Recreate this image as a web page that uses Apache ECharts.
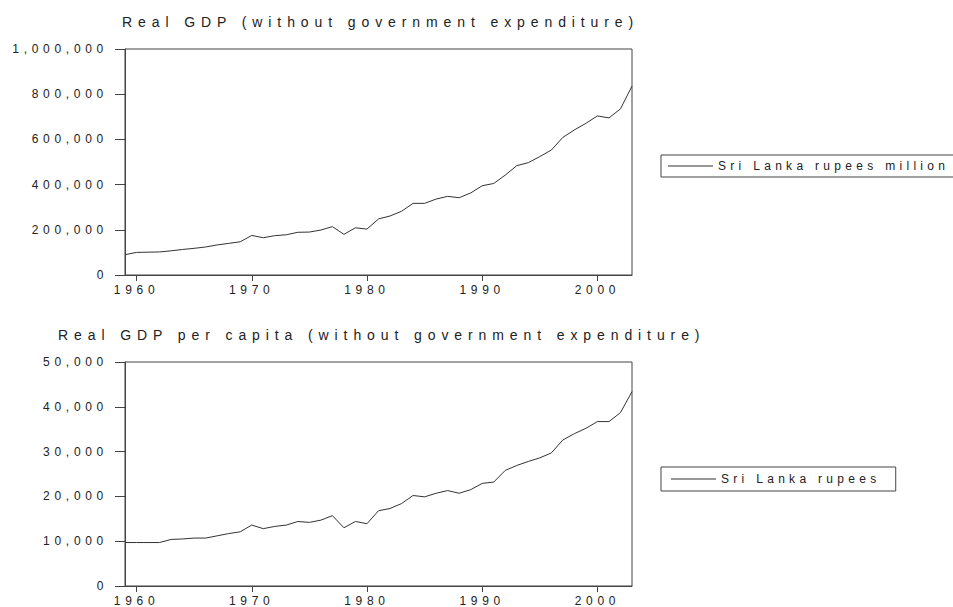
<!DOCTYPE html>
<html>
<head>
<meta charset="utf-8">
<script src="https://cdn.jsdelivr.net/npm/echarts@6/dist/echarts.min.js"></script>
<style>
html, body { margin: 0; padding: 0; background: #fff; }
#chart { width: 953px; height: 607px; }
/* the old plot spaces its letters out wide */
#chart text { letter-spacing: 4.7px; }
#chart text[style*="14px"] { letter-spacing: 5.9px; }
#chart text[style*="Arial"] { letter-spacing: 4.3px; }
</style>
</head>
<body>
<div id="chart"></div>
<script>
// 1959 - 2003
const years = [
    1959, 1960, 1961, 1962, 1963, 1964, 1965, 1966, 1967, 1968,
    1969, 1970, 1971, 1972, 1973, 1974, 1975, 1976, 1977, 1978,
    1979, 1980, 1981, 1982, 1983, 1984, 1985, 1986, 1987, 1988,
    1989, 1990, 1991, 1992, 1993, 1994, 1995, 1996, 1997, 1998,
    1999, 2000, 2001, 2002, 2003
]
// Sri Lanka rupees million
const gdp = [
    90000, 100000, 101000, 102000, 107000, 113000, 118000, 124000, 133000, 140000,
    147000, 175000, 165000, 174000, 178000, 189000, 190000, 199000, 214000, 180000,
    209000, 203000, 248000, 261000, 282000, 317000, 317000, 336000, 348000, 342000,
    363000, 395000, 405000, 442000, 484000, 497000, 524000, 553000, 609000, 642000,
    671000, 704000, 695000, 735000, 836000
]
// Sri Lanka rupees
const gdpPerCapita = [
    9700, 9700, 9700, 9700, 10400, 10500, 10700, 10700, 11200, 11700,
    12100, 13600, 12800, 13300, 13600, 14400, 14200, 14700, 15700, 13000,
    14400, 13900, 16800, 17300, 18400, 20200, 19900, 20700, 21300, 20700,
    21500, 22900, 23200, 25800, 26900, 27800, 28600, 29700, 32600, 34000,
    35200, 36700, 36700, 38700, 43400
]
const yearTicks = [1960, 1970, 1980, 1990, 2000]

const FONT = 'Liberation Sans'
const INK = '#222'
const FRAME = '#444'

const pairs = vals => years.map((y, i) => [y, vals[i]])
const withCommas = v => String(v).replace(/\B(?=(\d{3})+(?!\d))/g, ',')

function xAxisFor(gridIndex) {
    return {
        type: 'value',
        gridIndex,
        min: 1959,
        max: 2003,
        splitLine: { show: false },
        axisLine: { show: true, lineStyle: { color: FRAME } },
        axisTick: { show: true, length: 6, customValues: yearTicks, lineStyle: { color: FRAME } },
        axisLabel: {
            customValues: yearTicks,
            margin: 9,
            color: INK,
            fontFamily: FONT,
            fontSize: 12,
            formatter: v => String(v),
        },
    }
}

function yAxisFor(gridIndex, max, interval) {
    return {
        type: 'value',
        gridIndex,
        min: 0,
        max,
        interval,
        splitLine: { show: false },
        axisLine: { show: true, lineStyle: { color: FRAME } },
        axisTick: { show: true, length: 10, lineStyle: { color: FRAME } },
        axisLabel: {
            margin: 17,
            color: INK,
            fontFamily: FONT,
            fontSize: 12,
            formatter: withCommas,
        },
    }
}

// legend box, same look for both panels
function legendFor(name, top, padding) {
    return {
        data: [name],
        left: 661,
        top,
        orient: 'vertical',
        padding,
        icon: 'rect',
        itemWidth: 45,
        itemHeight: 1,
        borderColor: FRAME,
        borderWidth: 1,
        textStyle: { fontFamily: 'Arial', fontSize: 12, color: INK },
    }
}

const chart = echarts.init(document.getElementById('chart'), null, { renderer: 'svg' })

chart.setOption({
    animation: false,
    backgroundColor: '#fff',
    title: [{
        text: 'Real GDP (without government expenditure)',
        left: 122,
        top: 15,
        padding: 0,
        textStyle: { fontFamily: FONT, fontSize: 14, fontWeight: 'normal', color: INK },
    }, {
        text: 'Real GDP per capita (without government expenditure)',
        left: 58,
        top: 328,
        padding: 0,
        textStyle: { fontFamily: FONT, fontSize: 14, fontWeight: 'normal', color: INK },
    }],
    legend: [
        legendFor('Sri Lanka rupees million', 155, [5, 200, 5, 7]),
        legendFor('Sri Lanka rupees', 467, [6, 84, 6, 10]),
    ],
    grid: [
        { left: 125, top: 49, width: 507, height: 226, show: true, borderColor: FRAME, borderWidth: 1 },
        { left: 125, top: 362, width: 507, height: 225, show: true, borderColor: FRAME, borderWidth: 1 },
    ],
    xAxis: [xAxisFor(0), xAxisFor(1)],
    yAxis: [yAxisFor(0, 1000000, 200000), yAxisFor(1, 50000, 10000)],
    series: [{
        name: 'Sri Lanka rupees million',
        type: 'line',
        xAxisIndex: 0,
        yAxisIndex: 0,
        data: pairs(gdp),
        showSymbol: false,
        symbol: 'none',
        lineStyle: { color: '#333', width: 1 },
        itemStyle: { color: '#333' },
    }, {
        name: 'Sri Lanka rupees',
        type: 'line',
        xAxisIndex: 1,
        yAxisIndex: 1,
        data: pairs(gdpPerCapita),
        showSymbol: false,
        symbol: 'none',
        lineStyle: { color: '#333', width: 1 },
        itemStyle: { color: '#333' },
    }],
})
</script>
</body>
</html>
